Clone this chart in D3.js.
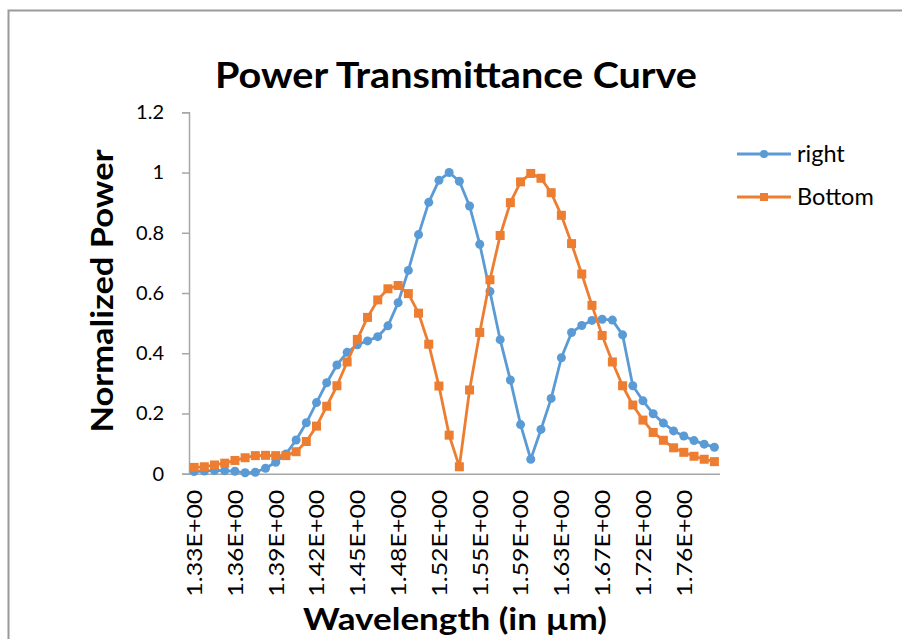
<!DOCTYPE html>
<html>
<head>
<meta charset="utf-8">
<script src="https://cdn.jsdelivr.net/npm/d3@7"></script>
<style>
  html, body { margin: 0; padding: 0; background: #fff; }
  svg { display: block; font-family: Lato, "Open Sans", sans-serif; }
</style>
</head>
<body>
<svg id="chart" width="902" height="639"></svg>
<script>
// Wavelength samples (µm), one per category on the x axis
const wavelengths = [
  1.330, 1.337, 1.344, 1.351, 1.358, 1.365, 1.372, 1.379, 1.386, 1.393,
  1.401, 1.408, 1.416, 1.424, 1.432, 1.440, 1.448, 1.456, 1.464, 1.472,
  1.481, 1.489, 1.498, 1.506, 1.516, 1.524, 1.533, 1.542, 1.551, 1.560,
  1.569, 1.579, 1.588, 1.598, 1.608, 1.618, 1.628, 1.638, 1.649, 1.660,
  1.670, 1.681, 1.693, 1.704, 1.716, 1.727, 1.739, 1.751, 1.763, 1.775,
  1.788, 1.800
];

// Normalized power at the "right" output port
const rightPower = [
  0.007, 0.009, 0.011, 0.010, 0.008, 0.003, 0.005, 0.018, 0.038, 0.065,
  0.112, 0.169, 0.236, 0.302, 0.361, 0.403, 0.428, 0.441, 0.455, 0.491,
  0.568, 0.675, 0.794, 0.901, 0.974, 1.000, 0.971, 0.889, 0.762, 0.605,
  0.445, 0.311, 0.163, 0.048, 0.147, 0.250, 0.385, 0.469, 0.492, 0.509,
  0.513, 0.510, 0.461, 0.292, 0.242, 0.199, 0.168, 0.142, 0.125, 0.110,
  0.098, 0.088
];

// Normalized power at the "Bottom" output port
const bottomPower = [
  0.021, 0.023, 0.029, 0.035, 0.044, 0.053, 0.060, 0.061, 0.060, 0.060,
  0.073, 0.107, 0.158, 0.224, 0.292, 0.371, 0.446, 0.519, 0.577, 0.614,
  0.625, 0.598, 0.533, 0.430, 0.291, 0.128, 0.023, 0.278, 0.469, 0.644,
  0.791, 0.900, 0.969, 0.997, 0.981, 0.933, 0.858, 0.764, 0.663, 0.559,
  0.459, 0.371, 0.292, 0.228, 0.178, 0.137, 0.111, 0.086, 0.071, 0.058,
  0.048, 0.040
];

const seriesNames = ["right", "Bottom"];
const seriesColors = ["#5B9BD5", "#ED7D31"];
const yTicks = [0, 0.2, 0.4, 0.6, 0.8, 1.0, 1.2];
const xLabelStep = 4;

// Excel-style scientific label, e.g. 1.33E+00
function sci(v) {
  const e = Math.floor(Math.log10(Math.abs(v)));
  const m = v / Math.pow(10, e);
  const sign = e < 0 ? "-" : "+";
  return m.toFixed(2) + "E" + sign + String(Math.abs(e)).padStart(2, "0");
}

const svg = d3.select("#chart");

// Outer chart frame
svg.append("rect")
  .attr("x", 8.5).attr("y", 10.5)
  .attr("width", 1000).attr("height", 800)
  .attr("fill", "#fff")
  .attr("stroke", "#9a9a9a").attr("stroke-width", 2);

const plot = { left: 189, right: 719.5, top: 112.3, bottom: 473.7 };

const x = d3.scaleBand()
  .domain(d3.range(wavelengths.length))
  .range([plot.left, plot.right])
  .paddingInner(0).paddingOuter(0);
const cx = i => x(i) + x.bandwidth() / 2;

const y = d3.scaleLinear().domain([0, 1.2]).range([plot.bottom, plot.top]);

// Y axis
const yAxis = svg.append("g")
  .attr("transform", `translate(${plot.left},0)`)
  .call(d3.axisLeft(y).tickValues(yTicks).tickSize(7).tickPadding(18)
    .tickFormat(d => d3.format("")(+d.toFixed(1))));
yAxis.select(".domain").attr("stroke", "#a6a6a6").attr("stroke-width", 1.5);
yAxis.selectAll(".tick line").attr("stroke", "#a6a6a6").attr("stroke-width", 1.5);
yAxis.selectAll(".tick text")
  .attr("font-size", 20).attr("fill", "#000")
  .attr("font-family", "Lato, sans-serif");

// X axis (category labels every few samples, rotated)
const xAxis = svg.append("g")
  .attr("transform", `translate(0,${plot.bottom})`)
  .call(d3.axisBottom(x)
    .tickValues(d3.range(0, wavelengths.length, xLabelStep))
    .tickSize(0).tickPadding(0)
    .tickFormat(i => sci(wavelengths[i])));
xAxis.select(".domain").attr("stroke", "#a6a6a6").attr("stroke-width", 1.5);
xAxis.selectAll(".tick text")
  .attr("font-size", 22).attr("fill", "#000")
  .attr("font-family", "Lato, sans-serif")
  .attr("text-anchor", "end")
  .attr("textLength", 107).attr("lengthAdjust", "spacingAndGlyphs")
  .attr("transform", "translate(0,16) rotate(-90)")
  .attr("x", 0).attr("y", 0).attr("dy", "0.36em");

// Series lines and markers
const allSeries = [rightPower, bottomPower];
const line = d3.line().x((d, i) => cx(i)).y(d => y(d));

allSeries.forEach((vals, s) => {
  const g = svg.append("g");
  g.append("path")
    .datum(vals)
    .attr("d", line)
    .attr("fill", "none")
    .attr("stroke", seriesColors[s])
    .attr("stroke-width", 2.8)
    .attr("stroke-linejoin", "round");
  if (s === 0) {
    g.selectAll("circle").data(vals).join("circle")
      .attr("cx", (d, i) => cx(i)).attr("cy", d => y(d))
      .attr("r", 4.5).attr("fill", seriesColors[s]);
  } else {
    g.selectAll("rect").data(vals).join("rect")
      .attr("x", (d, i) => cx(i) - 4.5).attr("y", d => y(d) - 4.5)
      .attr("width", 9).attr("height", 9).attr("fill", seriesColors[s]);
  }
});

// Legend
const legendY = [154, 197];
seriesNames.forEach((name, s) => {
  const g = svg.append("g").attr("transform", `translate(0,${legendY[s]})`);
  g.append("line")
    .attr("x1", 737).attr("x2", 791).attr("y1", 0).attr("y2", 0)
    .attr("stroke", seriesColors[s]).attr("stroke-width", 2.8);
  if (s === 0) {
    g.append("circle").attr("cx", 764).attr("cy", 0).attr("r", 4).attr("fill", seriesColors[s]);
  } else {
    g.append("rect").attr("x", 760).attr("y", -4).attr("width", 8).attr("height", 8).attr("fill", seriesColors[s]);
  }
  g.append("text")
    .attr("x", 797).attr("y", 0).attr("dy", "0.35em")
    .attr("font-size", 23.5).attr("fill", "#000")
    .text(name);
});

// Titles
svg.append("text")
  .attr("x", 456).attr("y", 88)
  .attr("text-anchor", "middle")
  .attr("font-size", 37).attr("font-weight", "bold").attr("fill", "#000")
  .attr("textLength", 482).attr("lengthAdjust", "spacingAndGlyphs")
  .text("Power Transmittance Curve");

svg.append("text")
  .attr("transform", "translate(113,291) rotate(-90)")
  .attr("text-anchor", "middle")
  .attr("font-size", 31).attr("font-weight", "bold").attr("fill", "#000")
  .attr("textLength", 283).attr("lengthAdjust", "spacingAndGlyphs")
  .text("Normalized Power");

svg.append("text")
  .attr("x", 455).attr("y", 630)
  .attr("text-anchor", "middle")
  .attr("font-size", 31).attr("font-weight", "bold").attr("fill", "#000")
  .attr("textLength", 304).attr("lengthAdjust", "spacingAndGlyphs")
  .text("Wavelength (in µm)");
</script>
</body>
</html>
